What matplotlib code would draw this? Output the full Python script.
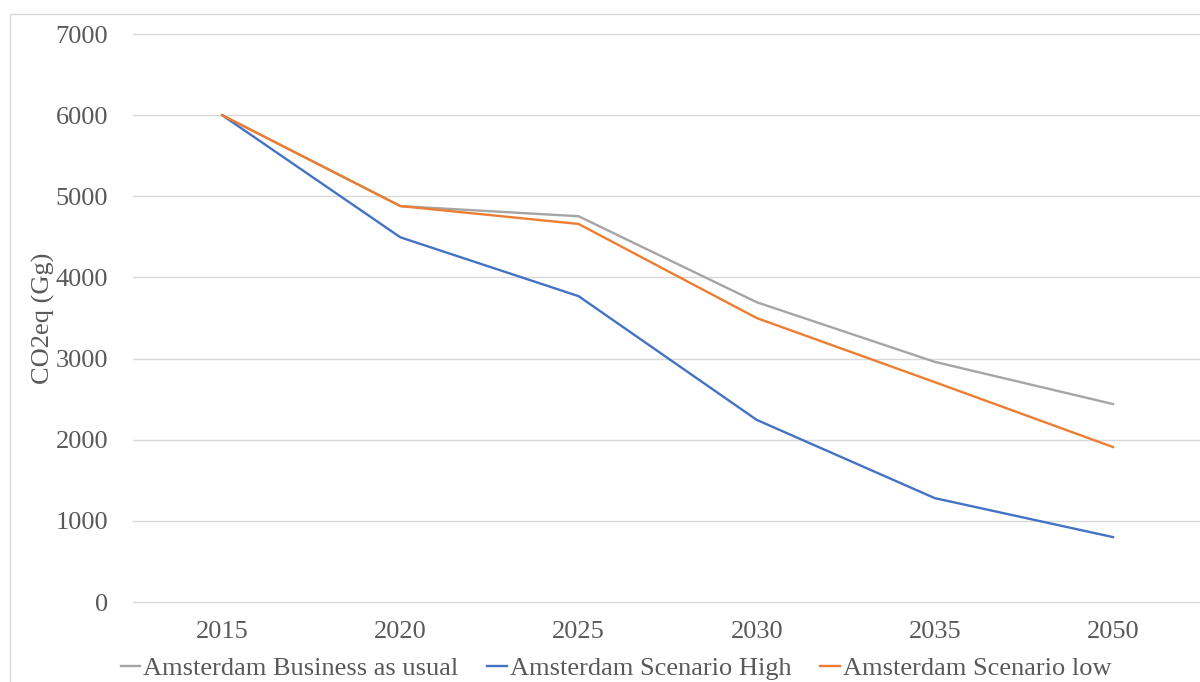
import matplotlib
matplotlib.use("Agg")
from matplotlib import pyplot as plt
from matplotlib.patches import Rectangle

years = ["2015", "2020", "2025", "2030", "2035", "2050"]
business_as_usual = [6000, 4880, 4755, 3695, 2960, 2440]
scenario_high = [6000, 4495, 3770, 2245, 1280, 800]
scenario_low = [6000, 4880, 4660, 3500, 2710, 1910]

plt.rcParams["font.family"] = ["Liberation Serif", "DejaVu Serif"]
text_color = "#595959"
fs = 19

fig = plt.figure(figsize=(12, 6.82), dpi=100)
ax = fig.add_axes([0.111, 0.1173, 0.8907, 0.8327])

x = range(len(years))
ax.plot(x, business_as_usual, color="#a5a5a5", lw=1.7, label="Amsterdam Business as usual")
ax.plot(x, scenario_high, color="#4472c4", lw=1.7, label="Amsterdam Scenario High")
ax.plot(x, scenario_low, color="#ed7d31", lw=1.7, label="Amsterdam Scenario low")

ax.set_xlim(-0.5, len(years) - 0.5)
ax.set_ylim(0, 7000)
ax.set_yticks(range(0, 7001, 1000))
ax.set_xticks(list(x))
ax.set_xticklabels(years)
ax.tick_params(length=0, labelsize=fs, colors=text_color)
ax.tick_params(axis="y", pad=18)
ax.tick_params(axis="x", pad=14)
ax.grid(axis="y", color="#d9d9d9", lw=1)
for gl in ax.get_ygridlines():
    gl.set_clip_on(False)
ax.set_axisbelow(True)
for s in ax.spines.values():
    s.set_visible(False)

fig.text(43 / 1200, 1 - 318 / 682, "CO2eq (Gg)", rotation=90, ha="center",
         va="center", fontsize=fs, color=text_color)

fig.legend(loc="center", bbox_to_anchor=(616 / 1200, 1 - 668 / 682), ncol=3,
           frameon=False, fontsize=fs, labelcolor=text_color, handlelength=0.75,
           handletextpad=0.1, columnspacing=1.1)

fig.patches.append(Rectangle((10 / 1200, -0.1), 1.2, (682 - 14) / 682 + 0.1,
                             transform=fig.transFigure, fill=False,
                             edgecolor="#d9d9d9", lw=1))

fig.savefig("out.png", dpi=100)
